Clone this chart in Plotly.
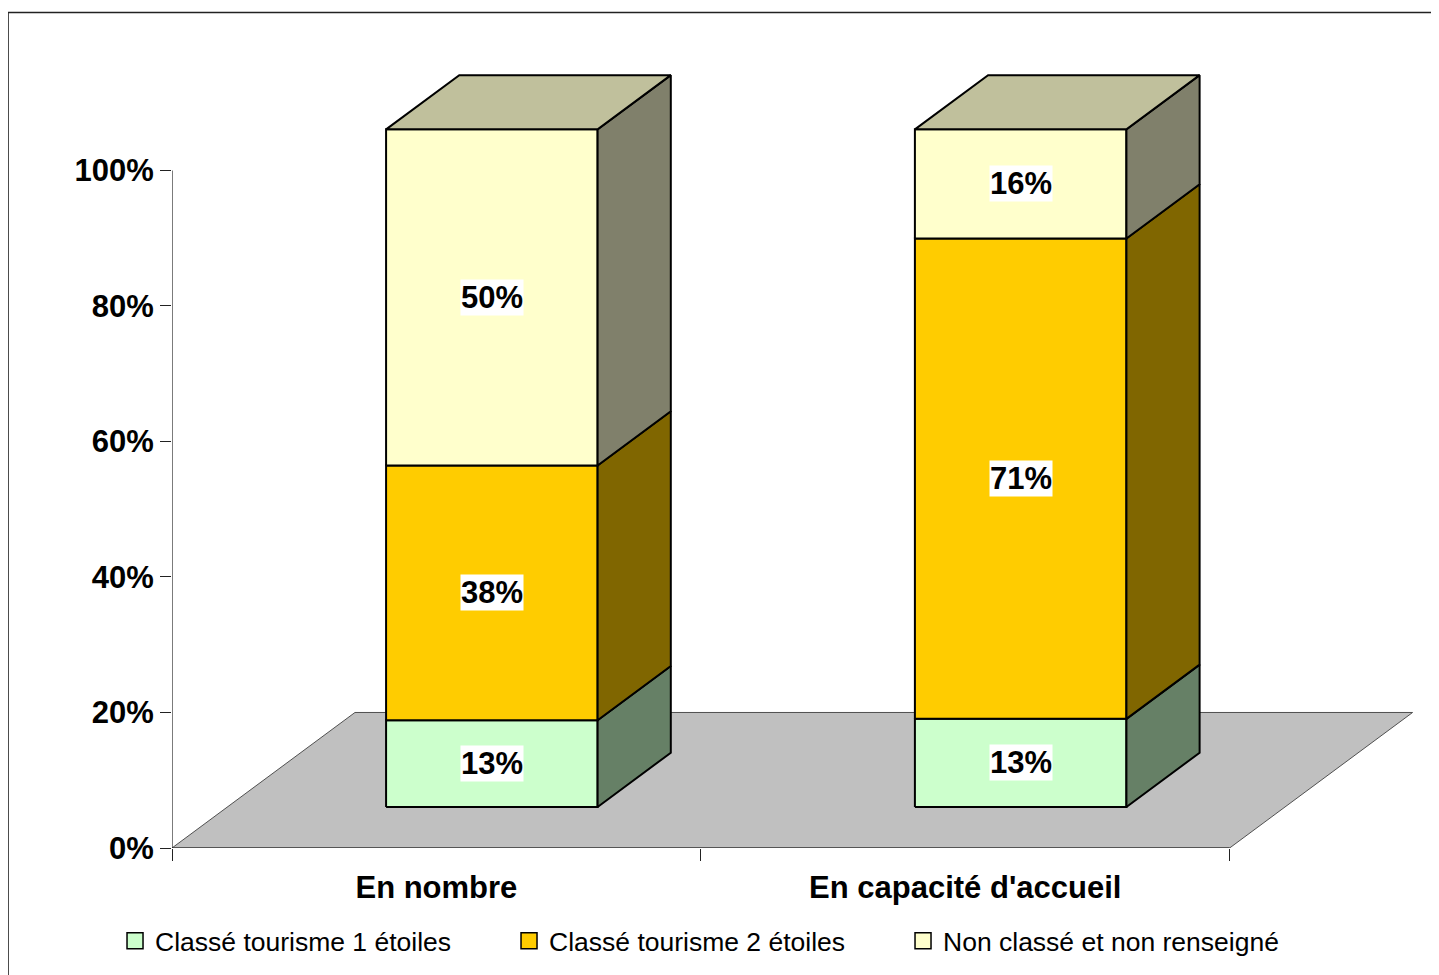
import plotly.graph_objects as go

# ---------------- data ----------------
categories = ["En nombre", "En capacité d'accueil"]
series_names = ["Classé tourisme 1 étoiles", "Classé tourisme 2 étoiles", "Non classé et non renseigné"]
values_1_etoile = [12.8, 13.0]
values_2_etoiles = [37.6, 70.9]
values_non_classe = [49.6, 16.1]
y_tick_values = [0, 20, 40, 60, 80, 100]
y_tick_labels = ["0%", "20%", "40%", "60%", "80%", "100%"]

series_values = [values_1_etoile, values_2_etoiles, values_non_classe]

# ---------------- style ----------------
front_colors = ["#CCFFCC", "#FFCC00", "#FFFFCC"]
side_colors = ["#668066", "#806600", "#80806B"]
top_color = "#C0C09C"
floor_color = "#C0C0C0"
FONT = "Liberation Sans, Arial, sans-serif"

# pseudo-3D projection, in axis units
DEPTH_DX = 0.346
DEPTH_DY = 20.0
BAR_FRONT = 0.303
BAR_BACK = 0.703
BAR_HALF = 0.2

# page body has an 8px margin: figure is sized to fit the window
BODY = 8
W, H = 1439 - BODY, 975 - BODY
X0_SCREEN, Y0_SCREEN = 172, 848          # screen position of the axis origin
PX_X, PX_Y = 529.0, 6.78                 # px per category / px per percent
X_MAX, Y_MAX = 2.36, 116
plot_w = X_MAX * PX_X
plot_h = Y_MAX * PX_Y
ML = X0_SCREEN - BODY
MB = H - (Y0_SCREEN - BODY)
MR = W - ML - plot_w
MT = H - MB - plot_h


def paper_x(px):
    return (px - X0_SCREEN) / plot_w


def paper_y(py):
    return (Y0_SCREEN - py) / plot_h


fig = go.Figure()


def poly(xs, ys, fill, line_color="black", line_width=2):
    fig.add_trace(go.Scatter(
        x=list(xs) + [xs[0]], y=list(ys) + [ys[0]], mode="lines", fill="toself",
        fillcolor=fill, line=dict(color=line_color, width=line_width),
        hoverinfo="skip", showlegend=False))


n_cat = len(categories)
# floor
poly([0, n_cat, n_cat + DEPTH_DX, DEPTH_DX], [0, 0, DEPTH_DY, DEPTH_DY], floor_color,
     line_color="#505050", line_width=1)

# axis lines
fig.add_trace(go.Scatter(x=[0, n_cat], y=[0, 0], mode="lines", line=dict(color="#222", width=1.2),
                         hoverinfo="skip", showlegend=False))
fig.add_trace(go.Scatter(x=[0, 0], y=[0, y_tick_values[-1]], mode="lines", line=dict(color="#222", width=1.2),
                         hoverinfo="skip", showlegend=False))

annotations = []
for i in range(n_cat):
    c = i + 0.5
    fx, fy = BAR_FRONT * DEPTH_DX, BAR_FRONT * DEPTH_DY
    bx, by = BAR_BACK * DEPTH_DX, BAR_BACK * DEPTH_DY
    xl, xr = c - BAR_HALF, c + BAR_HALF
    base = 0.0
    for s, vals in enumerate(series_values):
        v = vals[i]
        top = base + v
        # front face
        poly([xl + fx, xr + fx, xr + fx, xl + fx], [base + fy, base + fy, top + fy, top + fy], front_colors[s])
        # side face
        poly([xr + fx, xr + bx, xr + bx, xr + fx], [base + fy, base + by, top + by, top + fy], side_colors[s])
        annotations.append(dict(
            x=c + fx, y=(base + top) / 2 + fy, xref="x", yref="y", text=f"{round(v)}%",
            showarrow=False, bgcolor="white", borderpad=0,
            font=dict(family=FONT, size=31, color="black", weight="bold")))
        base = top
    # top face
    poly([xl + fx, xr + fx, xr + bx, xl + bx], [base + fy, base + fy, base + by, base + by], top_color)

# legend entries
for s, name in enumerate(series_names):
    fig.add_trace(go.Scatter(
        x=[None], y=[None], mode="markers", name=name,
        marker=dict(symbol="square", size=16, color=front_colors[s], line=dict(color="black", width=1.5)),
        showlegend=True))

fig.update_layout(
    width=W, height=H, autosize=False,
    margin=dict(l=ML, r=MR, t=MT, b=MB, autoexpand=False),
    paper_bgcolor="white", plot_bgcolor="rgba(0,0,0,0)",
    font=dict(family=FONT, color="black"),
    annotations=annotations,
    showlegend=True,
    legend=dict(orientation="h", x=paper_x(115), y=paper_y(941), xanchor="left", yanchor="middle",
                entrywidth=349, entrywidthmode="pixels", font=dict(family=FONT, size=26.5, color="black"),
                bgcolor="rgba(0,0,0,0)", itemsizing="trace", traceorder="normal"),
    shapes=[dict(type="rect", xref="paper", yref="paper", x0=paper_x(8), x1=paper_x(1470),
                 y0=paper_y(12), y1=paper_y(1000), line=dict(color="#222", width=1.5))],
)
fig.update_xaxes(
    range=[0, X_MAX], showgrid=False, zeroline=False, showline=False,
    tickmode="array", tickvals=[i + 0.5 for i in range(n_cat)], ticktext=categories,
    ticks="outside", ticklen=12, tickcolor="rgba(0,0,0,0)",
    tickfont=dict(family=FONT, size=31, color="black", weight="bold"),
    minor=dict(tickmode="array", tickvals=list(range(n_cat + 1)), ticks="outside", ticklen=12,
               tickcolor="#222", tickwidth=1.2, showgrid=False),
)
fig.update_yaxes(
    range=[0, Y_MAX], showgrid=False, zeroline=False, showline=False,
    tickmode="array", tickvals=y_tick_values, ticktext=y_tick_labels,
    ticks="outside", ticklen=11, tickcolor="#222", tickwidth=1.2,
    tickfont=dict(family=FONT, size=31, color="black", weight="bold"),
)

fig.write_html("out.html")
